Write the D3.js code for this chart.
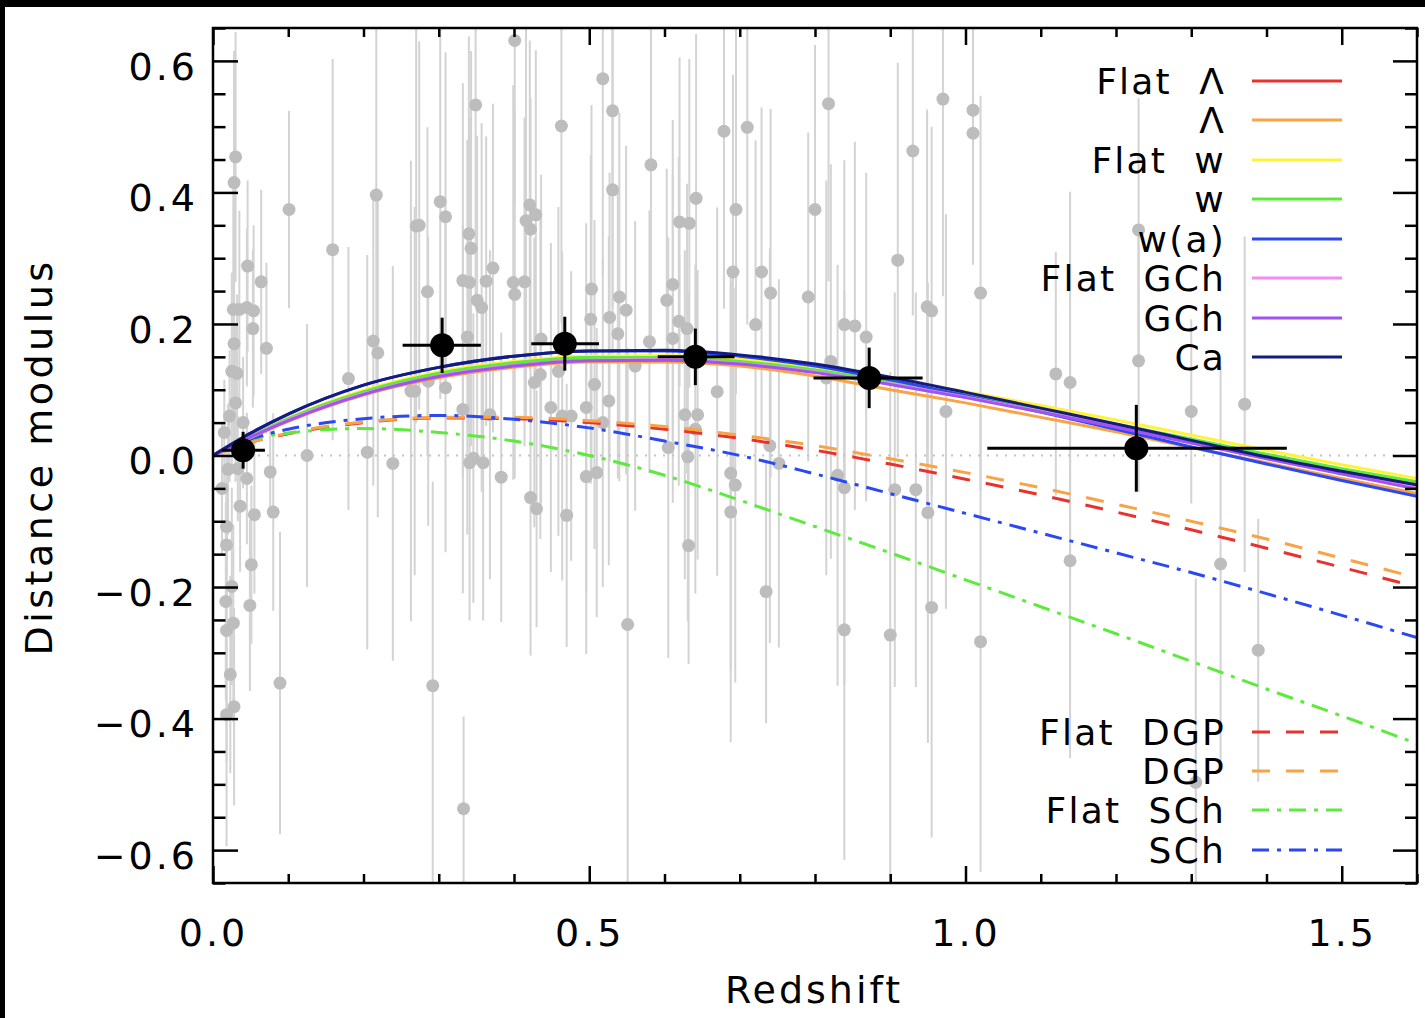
<!DOCTYPE html>
<html>
<head>
<meta charset="utf-8">
<script src="https://cdn.jsdelivr.net/npm/d3@7"></script>
<style>
  body { margin: 0; background: #fff; }
  text { font-family: "DejaVu Sans", sans-serif; fill: #000; }
</style>
</head>
<body>
<svg id="chart" width="1425" height="1018"></svg>
<script>
// grey supernovae: redshift, distance modulus residual, 1-sigma error
var snZ = [0.030,0.028,0.101,0.159,0.217,0.270,0.046,0.064,0.027,0.035,0.045,0.054,0.053,0.071,0.028,0.025,0.032,0.213,0.219,0.180,
  0.263,0.125,0.205,0.239,0.076,0.020,0.033,0.036,0.055,0.080,0.018,0.018,0.051,0.025,0.017,0.049,0.027,0.018,0.023,0.089,
  0.028,0.018,0.022,0.030,0.015,0.040,0.012,0.045,
  0.401,0.518,0.531,0.349,0.463,0.582,0.531,0.642,0.302,0.309,0.274,0.421,0.429,0.416,0.422,0.340,0.343,0.620,0.633,0.372,
  0.332,0.341,0.363,0.399,0.414,0.401,0.285,0.351,0.357,0.503,0.611,0.603,0.540,0.549,0.527,0.502,0.538,0.619,0.630,0.611,
  0.580,0.338,0.436,0.268,0.309,0.286,0.435,0.427,0.507,0.459,0.561,0.449,0.496,0.526,0.368,0.332,0.464,0.476,0.627,0.644,
  0.641,0.518,0.605,
  0.341,0.346,0.359,0.383,0.422,0.430,0.470,0.496,0.510,0.631,0.632,0.551,0.292,0.333,
  0.679,0.710,0.818,0.970,1.010,1.010,0.930,0.695,0.800,0.691,0.729,0.741,0.791,0.910,1.020,0.721,0.839,0.853,0.868,0.949,
  0.955,0.670,0.821,0.815,0.974,0.740,0.752,0.688,0.694,0.688,0.830,0.839,0.906,0.934,0.950,0.735,0.839,0.900,0.955,1.020,
  1.120,1.139,1.230,1.230,1.300,1.371,1.139,1.339,1.389,1.306];
var snMu = [0.454,0.415,0.374,0.313,0.396,0.349,0.288,0.264,0.222,0.222,0.225,0.220,0.193,0.163,0.170,0.128,0.125,0.174,0.156,0.117,
  0.098,0.000,0.005,-0.012,-0.025,-0.021,-0.020,-0.077,-0.090,-0.086,-0.108,-0.136,-0.166,-0.199,-0.222,-0.228,-0.255,-0.266,-0.333,-0.346,
  -0.382,-0.394,0.060,0.080,0.035,0.050,-0.050,-0.035,
  0.631,0.573,0.524,0.533,0.501,0.442,0.404,0.391,0.386,0.363,0.350,0.381,0.366,0.357,0.344,0.337,0.315,0.355,0.353,0.285,
  0.266,0.263,0.265,0.263,0.264,0.245,0.249,0.236,0.225,0.253,0.260,0.236,0.241,0.221,0.210,0.207,0.185,0.204,0.193,0.178,
  0.173,0.180,0.177,0.098,0.103,0.113,0.123,0.111,0.108,0.128,0.136,0.073,0.073,0.083,0.062,0.070,0.060,0.060,0.062,0.062,
  0.040,0.050,0.012,
  -0.011,-0.004,-0.011,-0.033,-0.064,-0.081,-0.091,-0.032,-0.026,-0.002,-0.137,-0.257,-0.350,-0.537,
  0.493,0.499,0.535,0.542,0.525,0.490,0.463,0.374,0.374,0.279,0.279,0.247,0.241,0.297,0.247,0.199,0.199,0.197,0.180,0.226,
  0.220,0.097,0.143,0.118,0.067,0.015,-0.012,-0.027,-0.045,-0.086,-0.030,-0.049,-0.052,-0.052,-0.087,-0.207,-0.265,-0.273,-0.231,-0.283,
  0.124,0.111,0.343,0.144,0.067,0.078,-0.160,-0.165,-0.296,-0.497];
var snErr = [0.19,0.20,0.15,0.29,0.30,0.30,0.13,0.14,0.20,0.15,0.12,0.13,0.12,0.13,0.15,0.15,0.12,0.22,0.25,0.20,
  0.35,0.20,0.30,0.30,0.07,0.10,0.08,0.10,0.12,0.15,0.12,0.10,0.12,0.15,0.15,0.13,0.15,0.20,0.15,0.23,
  0.15,0.20,0.10,0.12,0.08,0.10,0.10,0.10,
  0.25,0.30,0.30,0.30,0.30,0.30,0.25,0.25,0.30,0.25,0.28,0.25,0.25,0.30,0.20,0.30,0.30,0.25,0.25,0.25,
  0.30,0.25,0.22,0.30,0.25,0.28,0.25,0.25,0.28,0.28,0.25,0.20,0.28,0.25,0.22,0.25,0.22,0.25,0.22,0.25,
  0.20,0.30,0.25,0.28,0.25,0.22,0.25,0.22,0.25,0.25,0.22,0.25,0.28,0.25,0.25,0.28,0.25,0.22,0.25,0.22,
  0.25,0.25,0.32,
  0.24,0.22,0.24,0.22,0.24,0.18,0.20,0.27,0.22,0.25,0.18,0.42,0.31,0.14,
  0.27,0.30,0.27,0.30,0.20,0.20,0.25,0.28,0.25,0.30,0.25,0.28,0.25,0.30,0.30,0.28,0.25,0.28,0.25,0.30,
  0.28,0.28,0.30,0.30,0.30,0.30,0.28,0.30,0.30,0.35,0.32,0.30,0.30,0.30,0.35,0.20,0.35,0.40,0.35,0.35,
  0.185,0.29,0.20,0.20,0.14,0.255,0.30,0.30,0.20,0.31];

// binned averages (black)
var binZ = [0.040, 0.3045, 0.4675, 0.641, 0.872, 1.227];
var binMu = [0.008, 0.1675, 0.170, 0.150, 0.118, 0.011];
var binZlo = [0.012, 0.252, 0.423, 0.591, 0.798, 1.029];
var binZhi = [0.069, 0.356, 0.513, 0.693, 0.943, 1.427];
var binErr = [0.028, 0.042, 0.041, 0.043, 0.046, 0.066];

// model curves, sampled at modelZ
var modelZ = [0, 0.05, 0.1, 0.2, 0.3, 0.4, 0.5, 0.6, 0.7, 0.8, 0.9, 1.0, 1.1, 1.2, 1.3, 1.4, 1.5, 1.6];
var flatLambda = [0,0.029,0.055,0.096,0.123,0.139,0.147,0.147,0.141,0.128,0.110,0.090,0.068,0.046,0.022,-0.001,-0.022,-0.042];
var lambda     = [0,0.027,0.052,0.092,0.118,0.134,0.142,0.142,0.136,0.121,0.100,0.080,0.058,0.036,0.012,-0.011,-0.035,-0.058];
var flatW      = [0,0.030,0.057,0.099,0.127,0.143,0.151,0.152,0.147,0.135,0.117,0.097,0.076,0.054,0.031,0.008,-0.014,-0.035];
var wModel     = [0,0.029,0.056,0.097,0.125,0.141,0.149,0.149,0.143,0.130,0.112,0.092,0.070,0.048,0.025,0.002,-0.020,-0.040];
var wa         = [0,0.034,0.063,0.107,0.134,0.151,0.159,0.159,0.151,0.136,0.115,0.091,0.066,0.040,0.013,-0.013,-0.038,-0.062];
var flatGCh    = [0,0.028,0.054,0.094,0.121,0.137,0.145,0.146,0.140,0.127,0.109,0.089,0.067,0.044,0.020,-0.004,-0.027,-0.050];
var gch        = [0,0.028,0.053,0.093,0.120,0.136,0.144,0.145,0.139,0.126,0.108,0.088,0.066,0.043,0.019,-0.005,-0.028,-0.051];
var cardassian = [0,0.034,0.063,0.107,0.134,0.151,0.159,0.160,0.153,0.139,0.119,0.096,0.072,0.048,0.023,-0.002,-0.024,-0.045];
var flatDGP    = [0,0.020,0.033,0.050,0.057,0.056,0.050,0.040,0.026,0.008,-0.013,-0.036,-0.060,-0.086,-0.113,-0.141,-0.170,-0.200];
var dgp        = [0,0.020,0.034,0.051,0.058,0.058,0.053,0.044,0.031,0.015,-0.005,-0.026,-0.049,-0.074,-0.100,-0.127,-0.156,-0.186];
var flatSCh    = [0,0.024,0.034,0.041,0.035,0.022,0.000,-0.030,-0.068,-0.108,-0.148,-0.189,-0.230,-0.271,-0.313,-0.355,-0.396,-0.438];
var sch        = [0,0.025,0.040,0.056,0.061,0.055,0.042,0.022,0.000,-0.028,-0.058,-0.088,-0.118,-0.148,-0.178,-0.210,-0.243,-0.277];

var solidModels = [
  {name: "Flat  \u039B", v: flatLambda, c: "#e8322e"},
  {name: "\u039B",       v: lambda,     c: "#f9a444"},
  {name: "Flat  w",      v: flatW,      c: "#fff23a"},
  {name: "w",            v: wModel,     c: "#5cea3c"},
  {name: "w(a)",         v: wa,         c: "#2a48f4"},
  {name: "Flat  GCh",    v: flatGCh,    c: "#f48cf2"},
  {name: "GCh",          v: gch,        c: "#a052f2"},
  {name: "Ca",           v: cardassian, c: "#141c80"}
];
var brokenModels = [
  {name: "Flat  DGP", v: flatDGP, c: "#e8322e", dash: "18,16"},
  {name: "DGP",       v: dgp,     c: "#f9a444", dash: "18,16"},
  {name: "Flat  SCh", v: flatSCh, c: "#5cea3c", dash: "17,8,4,8"},
  {name: "SCh",       v: sch,     c: "#2a48f4", dash: "17,8,4,8"}
];

var svg = d3.select("#chart");
var L = 213, R = 1417, T = 28, B = 883;
var x = d3.scaleLinear().domain([0, 1.6]).range([L, R]);
var y = d3.scaleLinear().domain([-0.65, 0.65]).range([B, T]);

// black scan border of the original figure
svg.append("rect").attr("x", 0).attr("y", 0).attr("width", 1425).attr("height", 7).attr("fill", "#000");
svg.append("rect").attr("x", 0).attr("y", 0).attr("width", 5).attr("height", 1018).attr("fill", "#000");

var plot = svg.append("g");
plot.append("clipPath").attr("id", "clip")
  .append("rect").attr("x", L).attr("y", T).attr("width", R - L).attr("height", B - T);
var inner = plot.append("g").attr("clip-path", "url(#clip)");

// grey error bars, then points
inner.selectAll("line.sn").data(snZ).enter().append("line")
  .attr("x1", function(d) { return x(d); }).attr("x2", function(d) { return x(d); })
  .attr("y1", function(d, i) { return y(snMu[i] + snErr[i]); })
  .attr("y2", function(d, i) { return y(snMu[i] - snErr[i]); })
  .attr("stroke", "#d3d3d3").attr("stroke-width", 2);
inner.selectAll("circle.sn").data(snZ).enter().append("circle")
  .attr("cx", function(d) { return x(d); })
  .attr("cy", function(d, i) { return y(snMu[i]); })
  .attr("r", 6.5).attr("fill", "#bdbdbd");

// zero line
inner.append("line").attr("x1", L).attr("x2", R).attr("y1", y(0)).attr("y2", y(0))
  .attr("stroke", "#c4c4c4").attr("stroke-width", 2).attr("stroke-dasharray", "2,7");

var line = d3.line()
  .x(function(d, i) { return x(modelZ[i]); })
  .y(function(d) { return y(d); })
  .curve(d3.curveMonotoneX);

brokenModels.forEach(function(m) {
  inner.append("path").attr("d", line(m.v)).attr("fill", "none")
    .attr("stroke", m.c).attr("stroke-width", 3).attr("stroke-dasharray", m.dash);
});
solidModels.forEach(function(m) {
  inner.append("path").attr("d", line(m.v)).attr("fill", "none")
    .attr("stroke", m.c).attr("stroke-width", 3);
});

// binned points
binZ.forEach(function(z, i) {
  inner.append("line").attr("x1", x(binZlo[i])).attr("x2", x(binZhi[i]))
    .attr("y1", y(binMu[i])).attr("y2", y(binMu[i])).attr("stroke", "#000").attr("stroke-width", 3);
  inner.append("line").attr("x1", x(z)).attr("x2", x(z))
    .attr("y1", y(binMu[i] + binErr[i])).attr("y2", y(binMu[i] - binErr[i]))
    .attr("stroke", "#000").attr("stroke-width", 3);
  inner.append("circle").attr("cx", x(z)).attr("cy", y(binMu[i])).attr("r", 12).attr("fill", "#000");
});

// axes
var xMajor = [0, 0.5, 1.0, 1.5];
var xMinor = d3.range(0, 1.61, 0.1).filter(function(v) { return Math.abs(v * 2 - Math.round(v * 2)) > 1e-6; });
var yMajor = [-0.6, -0.4, -0.2, 0, 0.2, 0.4, 0.6];
var yMinor = d3.range(-0.65, 0.651, 0.05).filter(function(v) { return Math.abs(v * 5 - Math.round(v * 5)) > 1e-6; });
var fmt = d3.format(".1f");

function styleAxis(g) {
  g.select(".domain").remove();
  g.selectAll("line").attr("stroke", "#000").attr("stroke-width", 2.5);
  g.selectAll("text").style("font-size", "38px").style("letter-spacing", "3px")
    .style("font-family", "DejaVu Sans").attr("fill", "#000");
}

svg.append("g").attr("transform", "translate(0," + B + ")")
  .call(d3.axisBottom(x).tickValues(xMajor).tickSize(-17).tickPadding(36).tickFormat(fmt)).call(styleAxis);
svg.append("g").attr("transform", "translate(0," + B + ")")
  .call(d3.axisBottom(x).tickValues(xMinor).tickSize(-9).tickFormat("")).call(styleAxis);
svg.append("g").attr("transform", "translate(0," + T + ")")
  .call(d3.axisTop(x).tickValues(xMajor).tickSize(-17).tickFormat("")).call(styleAxis);
svg.append("g").attr("transform", "translate(0," + T + ")")
  .call(d3.axisTop(x).tickValues(xMinor).tickSize(-9).tickFormat("")).call(styleAxis);

var yl = svg.append("g").attr("transform", "translate(" + L + ",0)")
  .call(d3.axisLeft(y).tickValues(yMajor).tickSize(-25).tickPadding(15).tickFormat(fmt)).call(styleAxis);
yl.selectAll("text").attr("dy", "0.48em");
svg.append("g").attr("transform", "translate(" + L + ",0)")
  .call(d3.axisLeft(y).tickValues(yMinor).tickSize(-12.5).tickFormat("")).call(styleAxis);
svg.append("g").attr("transform", "translate(" + R + ",0)")
  .call(d3.axisRight(y).tickValues(yMajor).tickSize(-24).tickFormat("")).call(styleAxis);
svg.append("g").attr("transform", "translate(" + R + ",0)")
  .call(d3.axisRight(y).tickValues(yMinor).tickSize(-12).tickFormat("")).call(styleAxis);

// frame
svg.append("rect").attr("x", L).attr("y", T).attr("width", R - L).attr("height", B - T)
  .attr("fill", "none").attr("stroke", "#000").attr("stroke-width", 2.5);

// axis titles
svg.append("text").attr("x", 814).attr("y", 1003).attr("text-anchor", "middle")
  .style("font-size", "38px").style("letter-spacing", "3px").text("Redshift");
svg.append("text").attr("transform", "translate(52,457) rotate(-90)").attr("text-anchor", "middle")
  .style("font-size", "38px").style("letter-spacing", "3.5px").text("Distance modulus");

// legends (rows are tighter than the type size, as in the original)
var legTop = [81, 120, 160, 199, 239, 278, 318, 357];
var legBottom = [732, 771, 810, 850];
function legendRow(m, yy) {
  svg.append("line").attr("x1", 1252).attr("x2", 1342).attr("y1", yy).attr("y2", yy)
    .attr("stroke", m.c).attr("stroke-width", 3).attr("stroke-dasharray", m.dash || null);
  svg.append("text").attr("x", 1226).attr("y", yy + 13).attr("text-anchor", "end")
    .attr("xml:space", "preserve").style("white-space", "pre")
    .style("font-size", "36px").style("letter-spacing", "2.2px").text(m.name);
}
solidModels.forEach(function(m, i) { legendRow(m, legTop[i]); });
brokenModels.forEach(function(m, i) { legendRow(m, legBottom[i]); });
</script>
</body>
</html>
